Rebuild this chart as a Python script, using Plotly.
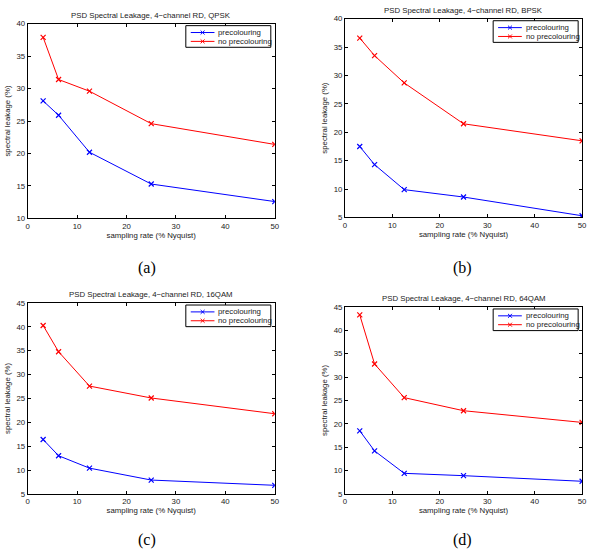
import plotly.graph_objects as go

x_rate = [3.125, 6.25, 12.5, 25, 50]

titles = [
    "PSD Spectral Leakage, 4\u2212channel RD, QPSK",
    "PSD Spectral Leakage, 4\u2212channel RD, BPSK",
    "PSD Spectral Leakage, 4\u2212channel RD, 16QAM",
    "PSD Spectral Leakage, 4\u2212channel RD, 64QAM",
]
panel_labels = ["(a)", "(b)", "(c)", "(d)"]
series_names = ["precolouring", "no precolouring"]
series_colors = ["#0000ff", "#ff0000"]

pre_qpsk = [28.1, 25.9, 20.2, 15.3, 12.6]
nopre_qpsk = [37.9, 31.4, 29.6, 24.6, 21.4]
pre_bpsk = [17.5, 14.3, 9.9, 8.6, 5.3]
nopre_bpsk = [36.6, 33.5, 28.7, 21.5, 18.5]
pre_16qam = [16.4, 13.0, 10.4, 7.9, 6.8]
nopre_16qam = [40.3, 34.8, 27.6, 25.1, 21.8]
pre_64qam = [18.5, 14.2, 9.4, 8.9, 7.7]
nopre_64qam = [43.3, 32.8, 25.6, 22.8, 20.3]

y_ranges = [(10, 40), (5, 40), (5, 45), (5, 45)]

pre_all = [pre_qpsk, pre_bpsk, pre_16qam, pre_64qam]
nopre_all = [nopre_qpsk, nopre_bpsk, nopre_16qam, nopre_64qam]

W, H = 596, 553
# plot boxes in pixels: left, right, top, bottom
boxes = [(26, 276, 20, 218), (347, 587, 15, 217), (26, 276, 304, 498), (347, 587, 308, 498)]
label_pos = [(147, 268), (466, 268), (147, 545), (466, 545)]

FONT = "Liberation Sans"
FS = 7.8
TXT = "#1a1a1a"


def px(v):
    return v / W


def py(v):
    return 1 - v / H


fig = go.Figure()
layout = dict(
    width=W, height=H, margin=dict(l=0, r=0, t=0, b=0),
    paper_bgcolor="white", plot_bgcolor="white", showlegend=False,
    font=dict(family=FONT, size=FS, color=TXT),
)
annotations = []
shapes = []
for i in range(4):
    sfx = "" if i == 0 else str(i + 1)
    xa, ya = "x" + sfx, "y" + sfx
    for ys, nm, col in zip([pre_all[i], nopre_all[i]], series_names, series_colors):
        fig.add_trace(go.Scatter(x=x_rate, y=ys, mode="lines+markers", name=nm,
                                 line=dict(color=col, width=1),
                                 marker=dict(symbol="x-thin", size=5, line=dict(color=col, width=1.2)),
                                 xaxis=xa, yaxis=ya))
    l, r, t, b = boxes[i]
    xd = [px(l), px(r)]
    yd = [py(b), py(t)]
    common = dict(showline=True, linecolor="black", linewidth=1, mirror="ticks", ticks="inside",
                  ticklen=3, tickcolor="black", showgrid=False, zeroline=False,
                  tickfont=dict(family=FONT, size=FS, color=TXT))
    layout["xaxis" + sfx] = dict(domain=xd, range=[0, 50], dtick=10, anchor=ya,
                                 title=dict(text="sampling rate (% Nyquist)", standoff=1,
                                            font=dict(family=FONT, size=FS, color=TXT)), **common)
    layout["yaxis" + sfx] = dict(domain=yd, range=list(y_ranges[i]), dtick=5, anchor=xa,
                                 title=dict(text="spectral leakage (%)", standoff=4,
                                            font=dict(family=FONT, size=FS, color=TXT)), **common)
    # manual compact legend (MATLAB style)
    lr = r - 4
    ll = lr - 86
    lt = t + 2
    lb = lt + 22
    shapes.append(dict(type="rect", xref="paper", yref="paper", x0=px(ll), x1=px(lr), y0=py(lb), y1=py(lt),
                       line=dict(color="black", width=1), fillcolor="white", layer="above"))
    for k, (nm, col) in enumerate(zip(series_names, series_colors)):
        ry = lt + 7 + 9 * k
        shapes.append(dict(type="line", xref="paper", yref="paper", x0=px(ll + 5), x1=px(ll + 29),
                           y0=py(ry), y1=py(ry), line=dict(color=col, width=1), layer="above"))
        mx = ll + 17
        for dx in (-2, 2):
            shapes.append(dict(type="line", xref="paper", yref="paper", x0=px(mx - dx), x1=px(mx + dx),
                               y0=py(ry - 2), y1=py(ry + 2), line=dict(color=col, width=1), layer="above"))
        annotations.append(dict(text=nm, x=px(ll + 31), y=py(ry), xref="paper", yref="paper",
                                xanchor="left", yanchor="middle", showarrow=False,
                                font=dict(family=FONT, size=FS, color=TXT)))
    annotations.append(dict(text=titles[i], x=(xd[0] + xd[1]) / 2, y=yd[1] + 2 / H, xref="paper",
                            yref="paper", xanchor="center", yanchor="bottom", showarrow=False,
                            font=dict(family=FONT, size=FS, color=TXT)))
    lx, ly = label_pos[i]
    annotations.append(dict(text=panel_labels[i], x=px(lx), y=py(ly), xref="paper", yref="paper",
                            xanchor="center", yanchor="middle", showarrow=False,
                            font=dict(family="Liberation Serif", size=16, color="black")))
layout["annotations"] = annotations
layout["shapes"] = shapes
fig.update_layout(**layout)
fig.write_html("out.html")
